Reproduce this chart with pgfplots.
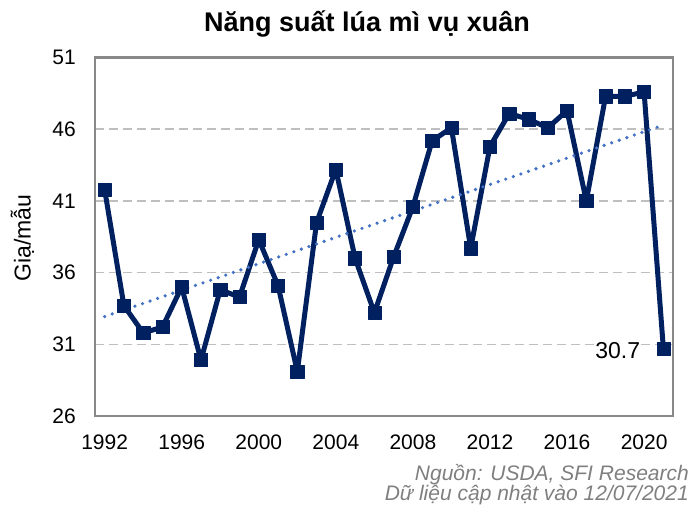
\documentclass[border=0pt]{standalone}
\usepackage{pgfplots}
\usepackage{pgfplotstable}
\pgfplotsset{compat=1.18}
\usepackage{fontspec}
\setmainfont{Liberation Sans}
\definecolor{navy}{HTML}{002060}
\definecolor{trend}{HTML}{4472C4}
\definecolor{gridc}{HTML}{BFBFBF}
\definecolor{framec}{HTML}{898989}
\definecolor{srcc}{HTML}{7F7F7F}
\pgfplotstableread{
x y
1992 41.8
1993 33.7
1994 31.8
1995 32.2
1996 35.0
1997 29.9
1998 34.8
1999 34.3
2000 38.3
2001 35.1
2002 29.1
2003 39.5
2004 43.2
2005 37.0
2006 33.2
2007 37.1
2008 40.6
2009 45.2
2010 46.1
2011 37.7
2012 44.8
2013 47.1
2014 46.7
2015 46.1
2016 47.3
2017 41.0
2018 48.3
2019 48.3
2020 48.6
2021 30.7
}\yielddata
\begin{document}
\begin{tikzpicture}
\path[use as bounding box] (0,0) rectangle (693bp,506bp);
\begin{axis}[
 at={(95bp,90bp)}, anchor=south west,
 scale only axis, width=578bp, height=358.4bp,
 xmin=1991.5, xmax=2021.5, ymin=26, ymax=51,
 xtick={1992,1996,...,2020}, ytick={26,31,...,51},
 major tick length=0pt,
 ymajorgrids, grid style={gridc, line width=1.6bp, dash pattern=on 9bp off 5bp},
 axis line style={framec, line width=2.2bp},
 /pgf/number format/1000 sep={},
 /pgf/number format/assume math mode=true,
 tick label style={font=\fontsize{21bp}{24bp}\selectfont, inner sep=0pt},
 yticklabel style={anchor=east, xshift=-19bp},
 xticklabel style={anchor=north, yshift=-19bp},
 clip=false,
]
\addplot[navy, line width=5bp, line join=round, mark=square*, mark size=6.6bp, mark options={solid, line width=0.5bp}] table[x=x,y=y]{\yielddata};
\addplot[trend, line width=3.6bp, line cap=round, dash pattern=on 0bp off 8bp] table[x=x, y={create col/linear regression={y=y}}]{\yielddata};
\node[anchor=east, xshift=-22bp, yshift=-1.5bp, fill=white, inner sep=1bp, font=\fontsize{23bp}{26bp}\selectfont] at (axis cs:2021,30.7) {30.7};
\end{axis}
\node[anchor=base, font=\bfseries\fontsize{27bp}{30bp}\selectfont] at (367bp,474.3bp) {Năng suất lúa mì vụ xuân};
\node[rotate=90, anchor=base, inner sep=0pt, font=\fontsize{23bp}{26bp}\selectfont] at (30.5bp,268bp) {Giạ/mẫu};
\node[anchor=base east, inner sep=0pt, text=srcc, font=\itshape\fontsize{21bp}{24bp}\selectfont] at (689bp,26bp) {Nguồn: USDA, SFI Research};
\node[anchor=base east, inner sep=0pt, text=srcc, font=\itshape\fontsize{21bp}{24bp}\selectfont] at (689bp,6bp) {Dữ liệu cập nhật vào 12/07/2021};
\end{tikzpicture}
\end{document}
